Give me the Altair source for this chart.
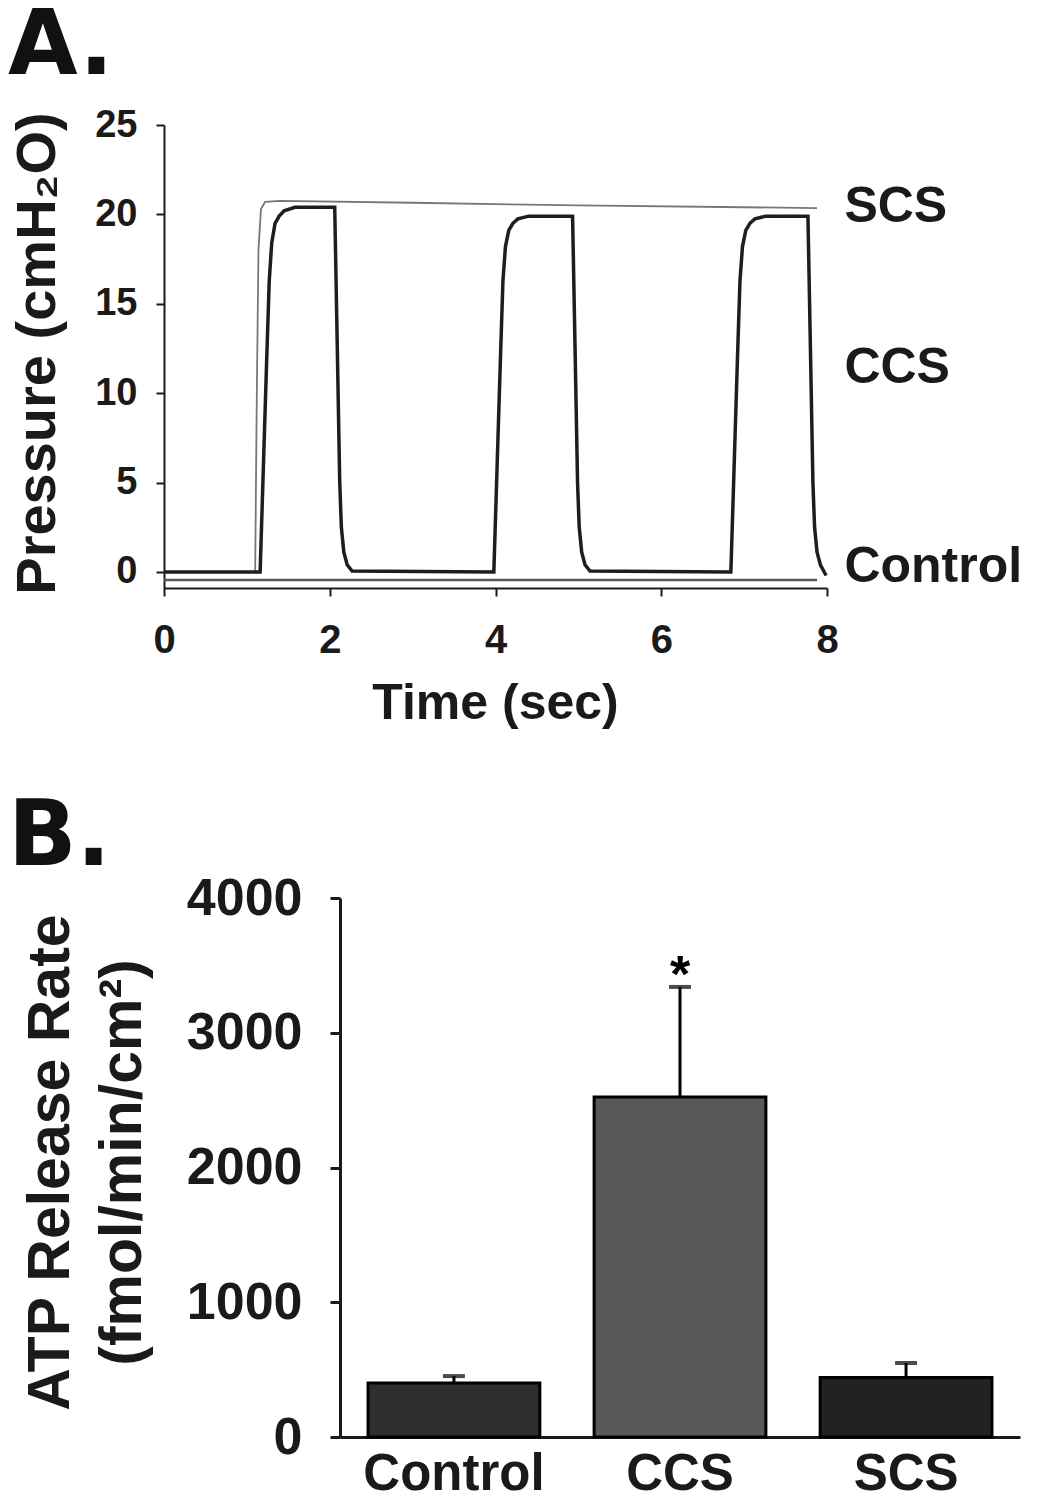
import altair as alt
import pandas as pd

# ---------------- Panel A data (pressure traces) ----------------
ccs_t = [0.0, 1.15, 1.16, 1.20, 1.24, 1.27, 1.30, 1.34, 1.39, 1.45, 1.58, 2.06,
         2.09, 2.12, 2.14, 2.17, 2.21, 2.27, 3.97,
         3.98, 4.02, 4.06, 4.09, 4.12, 4.16, 4.21, 4.27, 4.40, 4.93,
         4.96, 4.99, 5.01, 5.04, 5.08, 5.14, 6.83,
         6.84, 6.88, 6.92, 6.95, 6.98, 7.02, 7.07, 7.13, 7.26, 7.77,
         7.80, 7.83, 7.85, 7.88, 7.92, 7.96, 7.99]
ccs_p = [0.0, 0.0, 0.0, 6.0, 12.0, 16.3, 18.4, 19.5, 19.9, 20.2, 20.4, 20.4,
         12.8, 5.1, 2.5, 1.1, 0.4, 0.05, 0.0,
         0.0, 6.0, 12.0, 16.3, 18.2, 19.1, 19.5, 19.75, 19.9, 19.9,
         12.5, 5.0, 2.5, 1.1, 0.4, 0.05, 0.0,
         0.0, 6.0, 12.0, 16.3, 18.2, 19.1, 19.5, 19.75, 19.9, 19.9,
         12.5, 5.0, 2.5, 1.1, 0.4, 0.05, -0.2]

scs_t = [0.0, 1.10, 1.12, 1.14, 1.17, 1.22, 1.40, 3.0, 5.0, 7.0, 7.88]
scs_p = [0.0, 0.0, 10.0, 18.0, 20.3, 20.7, 20.75, 20.65, 20.5, 20.4, 20.35]

control_t = [0.0, 7.88]
control_p = [-0.45, -0.45]

label_names = ["SCS", "CCS", "Control"]
label_t = [8.21, 8.21, 8.21]
label_p = [20.4, 11.4, 0.3]

time_ticks = [0, 2, 4, 6, 8]
pressure_ticks = [0, 5, 10, 15, 20, 25]

# ---------------- Panel B data (ATP release) ----------------
groups = ["Control", "CCS", "SCS"]
atp_mean = [400, 2523, 441]
atp_err = [52, 817, 108]
atp_fill = ["#2e2e2e", "#585858", "#222222"]
atp_ticks = [0, 1000, 2000, 3000, 4000]

FONT = "Liberation Sans"
INK = "#1a1a1a"
SHIFT_B = 176  # panel B's y axis sits this far right of panel A's

df_a = pd.concat([
    pd.DataFrame({"t": ccs_t, "p": ccs_p, "series": "CCS"}),
    pd.DataFrame({"t": scs_t, "p": scs_p, "series": "SCS"}),
    pd.DataFrame({"t": control_t, "p": control_p, "series": "Control"}),
], ignore_index=True)
df_a["order"] = range(len(df_a))

df_lab = pd.DataFrame({"t": label_t, "p": label_p, "label": label_names})

xA = alt.X("t:Q", scale=alt.Scale(domain=[0, 8], nice=False, zero=False),
           axis=alt.Axis(values=time_ticks, format="d", grid=False,
                         labelFont=FONT, labelFontSize=40, labelFontWeight="bold",
                         labelColor=INK, labelBaseline="alphabetic", labelPadding=56,
                         labelFlush=False, labelOverlap=False,
                         tickSize=8, tickWidth=2, tickColor=INK,
                         domainColor=INK, domainWidth=2,
                         title="Time (sec)", titleFont=FONT, titleFontSize=50,
                         titleFontWeight="bold", titleColor=INK,
                         titleX=331, titleY=130, titleBaseline="alphabetic",
                         titleAlign="center"))
yA = alt.Y("p:Q", scale=alt.Scale(domain=[-0.9, 25], nice=False, zero=False),
           axis=alt.Axis(values=pressure_ticks, format="d", grid=False,
                         labelFont=FONT, labelFontSize=38, labelFontWeight="bold",
                         labelColor=INK, labelPadding=19, labelOverlap=False,
                         labelFlush=False,
                         tickSize=8, tickWidth=2, tickColor=INK,
                         domainColor=INK, domainWidth=2,
                         title="Pressure (cmH₂O)", titleFont=FONT, titleFontSize=56,
                         titleFontWeight="bold", titleColor=INK,
                         titleAngle=270, titleX=-110, titleY=228,
                         titleBaseline="alphabetic", titleAlign="center"))

base_a = alt.Chart(df_a)
line_ctrl = base_a.transform_filter(alt.datum.series == "Control").mark_line(
    color="#555555", strokeWidth=2.5).encode(x=xA, y=yA, order="order:Q")
line_scs = base_a.transform_filter(alt.datum.series == "SCS").mark_line(
    color="#777777", strokeWidth=1.8).encode(x=xA, y=yA, order="order:Q")
line_ccs = base_a.transform_filter(alt.datum.series == "CCS").mark_line(
    color="#1e1e1e", strokeWidth=3.5).encode(x=xA, y=yA, order="order:Q")

labels_a = alt.Chart(df_lab).mark_text(
    align="left", baseline="middle", font=FONT, fontSize=50,
    fontWeight="bold", color=INK).encode(x="t:Q", y="p:Q", text="label:N")

tag_a = alt.Chart(pd.DataFrame({"tag": ["A."]})).mark_text(
    align="left", baseline="alphabetic", font="DejaVu Sans", fontSize=90,
    fontWeight="bold", color="#111111").encode(
    x=alt.value(-156), y=alt.value(-51), text="tag:N")

panel_a = alt.layer(line_ctrl, line_scs, line_ccs, labels_a, tag_a).properties(
    width=663, height=463)

# ---------------- Panel B ----------------
df_b = pd.DataFrame({"group": groups, "mean": atp_mean, "err": atp_err,
                     "fill": atp_fill})
df_b["upper"] = df_b["mean"] + df_b["err"]
df_b["star"] = ["", "*", ""]

xB = alt.X("group:N", sort=groups,
           scale=alt.Scale(paddingInner=0.24, paddingOuter=0.124,
                           range=[SHIFT_B, SHIFT_B + 680]),
           axis=alt.Axis(title=None, labelAngle=0, ticks=False, tickSize=0,
                         labelLimit=0,
                         labelFont=FONT, labelFontSize=51, labelFontWeight="bold",
                         labelColor=INK, labelBaseline="alphabetic", labelPadding=52,
                         domainColor=INK, domainWidth=3))
yB_axis = alt.Axis(values=atp_ticks, format="d", grid=False, offset=-SHIFT_B,
                   labelFont=FONT, labelFontSize=52, labelFontWeight="bold",
                   labelColor=INK, labelPadding=28, labelOverlap=False,
                   tickSize=10, tickWidth=3, tickColor=INK,
                   domainColor=INK, domainWidth=3,
                   title=["ATP Release Rate", "(fmol/min/cm²)"],
                   titleFont=FONT, titleFontSize=59, titleFontWeight="bold",
                   titleColor=INK, titleAngle=270, titleX=-272, titleY=264,
                   titleLineHeight=72, titleBaseline="alphabetic",
                   titleAlign="center")
yScaleB = alt.Scale(domain=[0, 4000], nice=False)

base_b = alt.Chart(df_b)
bars = base_b.mark_bar(stroke="black", strokeWidth=3).encode(
    x=xB,
    y=alt.Y("mean:Q", scale=yScaleB, axis=yB_axis),
    fill=alt.Fill("group:N", scale=alt.Scale(domain=groups, range=atp_fill),
                  legend=None))
err_rule = base_b.mark_rule(color="black", strokeWidth=3).encode(
    x=xB, y=alt.Y("mean:Q", scale=yScaleB), y2="upper:Q")
err_cap = base_b.mark_tick(color="black", thickness=4, size=22,
                           orient="horizontal").encode(
    x=xB, y=alt.Y("upper:Q", scale=yScaleB))
star = base_b.mark_text(font=FONT, fontSize=52, fontWeight="bold",
                        baseline="alphabetic", dy=5, color="black").encode(
    x=xB, y=alt.Y("upper:Q", scale=yScaleB), text="star:N")

tag_b = alt.Chart(pd.DataFrame({"tag": ["B."]})).mark_text(
    align="left", baseline="alphabetic", font="DejaVu Sans", fontSize=90,
    fontWeight="bold", color="#111111").encode(
    x=alt.value(-156), y=alt.value(-33), text="tag:N")

panel_b = alt.layer(bars, err_rule, err_cap, star, tag_b).properties(
    width=SHIFT_B + 680, height=539)

chart = alt.vconcat(panel_a, panel_b, spacing=65).properties(
    padding={"left": 0, "top": -6, "right": 0, "bottom": 0},
    background="white"
).configure_view(stroke=None)

chart.save("out.html", embed_options={"renderer": "svg", "actions": False})
